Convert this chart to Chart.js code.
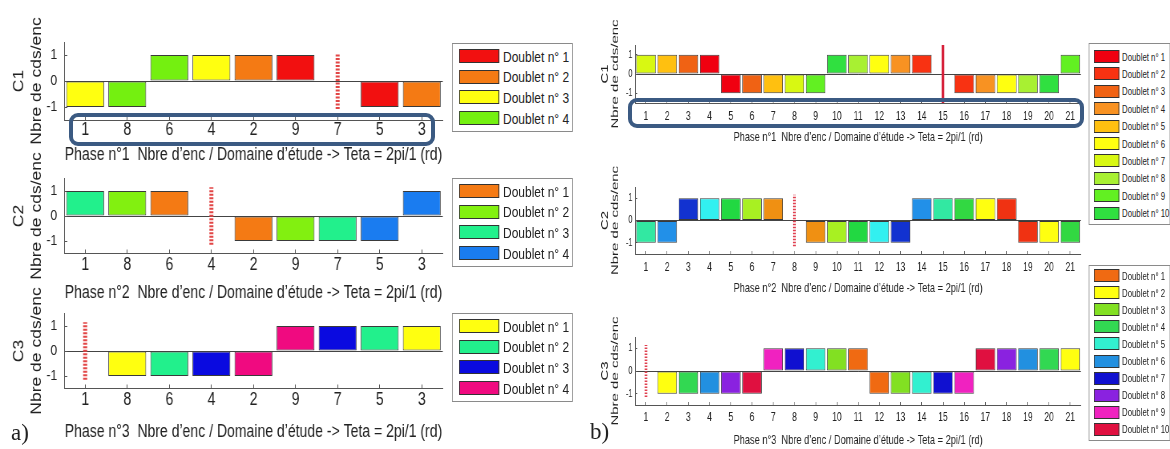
<!DOCTYPE html>
<html>
<head>
<meta charset="utf-8">
<script src="https://cdn.jsdelivr.net/npm/chart.js@4.4.0/dist/chart.umd.min.js"></script>
<style>
  html, body { margin: 0; padding: 0; background: #fff; }
  #page { position: relative; width: 1170px; height: 449px; overflow: hidden; background: #fff;
          font-family: "Liberation Sans", Arial, sans-serif; color: #222; }
  .panel { position: absolute; left: 0; top: 0; height: 449px; transform-origin: 0 0; }
  .box { position: absolute; }
  .legend { position: absolute; background: #fff; border: 1px solid #8a8a8a; box-sizing: border-box; }
  .row { position: absolute; display: flex; align-items: center; white-space: nowrap; }
  .sw { box-sizing: border-box; border: 1px solid #333; flex: none; }
  .hl { position: absolute; border: 4px solid #3b5a82; border-radius: 9px; box-sizing: border-box; }
  .lab { position: absolute; font-family: "Liberation Serif", "Times New Roman", serif; font-size: 23px; line-height: 23px; }
</style>
</head>
<body>
<div id="page">
  <div class="panel" id="panelA"></div>
  <div class="panel" id="panelB"></div>
  <div class="hl" style="left:69px;top:113px;width:366px;height:33px;"></div>
  <div class="hl" style="left:628px;top:98px;width:456px;height:30px;"></div>
  <div class="lab" style="left:11px;top:421px;">a)</div>
  <div class="lab" style="left:590px;top:420px;">b)</div>
</div>
<script>
// ---- data ----
var catsA = ["1", "8", "6", "4", "2", "9", "7", "5", "3"];
var catsB = ["1", "2", "3", "4", "5", "6", "7", "8", "9", "10", "11", "12", "13", "14", "15", "16", "17", "18", "19", "20", "21"];
var yTicks = [-1, 0, 1];
var yName = "Nbre de cds/enc";

// panel a
var valuesA1 = [-1, -1, 1, 1, 1, 1, null, -1, -1];
var doubletsA1 = [3, 4, 4, 3, 2, 1, null, 1, 2];
var valuesA2 = [1, 1, 1, null, -1, -1, -1, -1, 1];
var doubletsA2 = [3, 2, 1, null, 1, 2, 3, 4, 4];
var valuesA3 = [null, -1, -1, -1, -1, 1, 1, 1, 1];
var doubletsA3 = [null, 1, 2, 3, 4, 4, 3, 2, 1];
var stemsA = ["7", "4", "1"];
var coloursA1 = ["#f21010", "#f47a14", "#ffff10", "#74f010"];
var coloursA2 = ["#f47a14", "#82f010", "#22f08c", "#1a7cf0"];
var coloursA3 = ["#ffff10", "#22f08c", "#0a0ae0", "#f00a80"];

// panel b
var valuesB1 = [1, 1, 1, 1, -1, -1, -1, -1, -1, 1, 1, 1, 1, 1, null, -1, -1, -1, -1, -1, 1];
var doubletsB1 = [7, 5, 3, 1, 1, 3, 5, 7, 9, 10, 8, 6, 4, 2, null, 2, 4, 6, 8, 10, 9];
var valuesB2 = [-1, -1, 1, 1, 1, 1, 1, null, -1, -1, -1, -1, -1, 1, 1, 1, 1, 1, -1, -1, -1];
var doubletsB2 = [7, 6, 5, 4, 3, 2, 1, null, 1, 2, 3, 4, 5, 6, 7, 8, 9, 10, 10, 9, 8];
var valuesB3 = [null, -1, -1, -1, -1, -1, 1, 1, 1, 1, 1, -1, -1, -1, -1, -1, 1, 1, 1, 1, 1];
var doubletsB3 = [null, 2, 4, 6, 8, 10, 9, 7, 5, 3, 1, 1, 3, 5, 7, 9, 10, 8, 6, 4, 2];
var stemsB = ["15", "8", "1"];
var coloursB1 = ["#f00010", "#f83212", "#f06214", "#f89222", "#ffc010", "#ffff10", "#d8f812", "#a8f032", "#62f022", "#30e040"];
var coloursB2 = ["#f09012", "#a8f022", "#22d842", "#32f0f0", "#1232d0", "#2290e8", "#32e8a2", "#32d842", "#ffff10", "#f03212"];
var coloursB3 = ["#f06a12", "#ffff10", "#82e022", "#32d852", "#32f0d0", "#2290e0", "#1010d0", "#8a22e0", "#f022c0", "#e01040"];

var titles = [
  "Phase n°1  Nbre d’enc / Domaine d’étude -> Teta = 2pi/1 (rd)",
  "Phase n°2  Nbre d’enc / Domaine d’étude -> Teta = 2pi/1 (rd)",
  "Phase n°3  Nbre d’enc / Domaine d’étude -> Teta = 2pi/1 (rd)",
];

Chart.defaults.font.family = '"Liberation Sans", Arial, sans-serif';
Chart.defaults.color = "#222";

var sA = 0.8, sB = 0.68;
var panelA = document.getElementById("panelA");
var panelB = document.getElementById("panelB");
panelA.style.width = 1170 / sA + "px";
panelA.style.transform = "scaleX(" + sA + ")";
panelB.style.width = 1170 / sB + "px";
panelB.style.transform = "scaleX(" + sB + ")";

function addChart(panel, g, d) {
  var s = g.s;
  var holder = document.createElement("div");
  holder.className = "box";
  holder.style.left = g.x0 / s + "px";
  holder.style.top = g.y0 + "px";
  holder.style.width = (g.x1 - g.x0) / s + "px";
  holder.style.height = g.y1 - g.y0 + "px";
  var cv = document.createElement("canvas");
  holder.appendChild(cv);
  panel.appendChild(holder);

  new Chart(cv, {
    type: "bar",
    data: {
      labels: d.cats,
      datasets: [
        {
          data: d.values,
          backgroundColor: d.doublets.map(function (n) { return n ? d.colours[n - 1] : "transparent"; }),
          borderColor: "#3a3a3a",
          borderWidth: 1,
          borderSkipped: false,
          barPercentage: g.bar,
          categoryPercentage: 1,
        },
        {
          type: "line",
          data: d.stemRange.map(function (v) { return { x: d.stem, y: v }; }),
          borderColor: d.stemColour,
          borderWidth: g.stemWidth,
          borderDash: d.stemDash,
          pointRadius: 0,
        },
      ],
    },
    options: {
      responsive: true,
      maintainAspectRatio: false,
      animation: false,
      layout: { padding: { top: g.pt - g.y0, right: (g.x1 - g.pr) / s, left: 0, bottom: 0 } },
      plugins: { legend: { display: false }, tooltip: { enabled: false } },
      scales: {
        x: {
          offset: true,
          grid: { display: true, drawOnChartArea: false, drawTicks: true, tickLength: -g.tl, offset: false, color: "#555" },
          border: { display: true, color: "#555" },
          ticks: { font: { size: g.xf }, padding: g.tickY - g.pb + g.tl - g.xf * 0.6, maxRotation: 0, autoSkip: false },
          title: { display: true, text: d.xTitle, font: { size: g.tf }, padding: 0 },
          afterFit: function (sc) { sc.height = g.y1 - g.pb; },
        },
        y: {
          min: -1.5,
          max: 1.5,
          afterBuildTicks: function (sc) { sc.ticks = yTicks.map(function (v) { return { value: v }; }); },
          grid: {
            color: function (c) { return c.tick && c.tick.value === 0 ? "#444" : "rgba(0,0,0,0)"; },
            tickColor: "#555",
            tickLength: -g.tl,
            drawTicks: true,
          },
          border: { display: true, color: "#555" },
          ticks: { font: { size: g.yf }, padding: g.tl + g.ygap / s },
          title: { display: true, text: [d.cName, yName], font: { size: g.yt, lineHeight: g.ylh }, padding: { top: g.ytp, bottom: 0 } },
          afterFit: function (sc) { sc.width = (g.pl - g.x0) / s; },
        },
      },
    },
  });
}

function addLegend(panel, g, colours) {
  var s = g.s;
  var box = document.createElement("div");
  box.className = "legend";
  box.style.left = g.x0 / s + "px";
  box.style.top = g.y0 + "px";
  box.style.width = (g.x1 - g.x0) / s + "px";
  box.style.height = g.y1 - g.y0 + "px";
  colours.forEach(function (c, i) {
    var row = document.createElement("div");
    row.className = "row";
    row.style.left = (g.swX - g.x0) / s - 1 + "px";
    row.style.top = g.swTop + i * g.step - g.y0 - 1 + "px";
    row.style.height = g.swH + "px";
    var sw = document.createElement("div");
    sw.className = "sw";
    sw.style.width = g.swW / s + "px";
    sw.style.height = g.swH + "px";
    sw.style.background = c;
    var tx = document.createElement("span");
    tx.style.fontSize = g.font + "px";
    tx.style.marginLeft = (g.textX - g.swX - g.swW) / s + "px";
    tx.textContent = "Doublet n° " + (i + 1);
    row.appendChild(sw);
    row.appendChild(tx);
    box.appendChild(row);
  });
  panel.appendChild(box);
}

// ---- panel a ----
var geoA = { s: sA, x0: 0, x1: 446, pl: 64, pr: 442, bar: 0.9, tl: 4, xf: 17.5, yf: 15, tf: 17.5, yt: 17.5, ylh: 1.29, ytp: 12.5, ygap: 7, stemWidth: 5 };
function gA(extra) { return Object.assign({}, geoA, extra); }

addChart(panelA, gA({ y0: 0, y1: 166, pt: 42, pb: 120, tickY: 130 }),
  { cats: catsA, values: valuesA1, doublets: doubletsA1, colours: coloursA1, stem: stemsA[0], stemRange: [-1.08, 1.08],
    stemColour: "#e24646", stemDash: [2, 1.5], cName: "C1", xTitle: titles[0] });
addChart(panelA, gA({ y0: 140, y1: 304, pt: 178.5, pb: 253.5, tickY: 265 }),
  { cats: catsA, values: valuesA2, doublets: doubletsA2, colours: coloursA2, stem: stemsA[1], stemRange: [-1.15, 1.15],
    stemColour: "#e24646", stemDash: [2, 1.5], cName: "C2", xTitle: titles[1] });
addChart(panelA, gA({ y0: 270, y1: 443, pt: 313.5, pb: 388.5, tickY: 400 }),
  { cats: catsA, values: valuesA3, doublets: doubletsA3, colours: coloursA3, stem: stemsA[2], stemRange: [-1.15, 1.15],
    stemColour: "#e24646", stemDash: [2, 1.5], cName: "C3", xTitle: titles[2] });

var legA = { s: sA, x0: 452, x1: 573, step: 20.7, swX: 459, swW: 40, swH: 14, textX: 503, font: 15 };
addLegend(panelA, Object.assign({}, legA, { y0: 43, y1: 132, swTop: 49 }), coloursA1);
addLegend(panelA, Object.assign({}, legA, { y0: 178, y1: 267, swTop: 184 }), coloursA2);
addLegend(panelA, Object.assign({}, legA, { y0: 313, y1: 402, swTop: 319 }), coloursA3);

// ---- panel b ----
var geoB = { s: sB, x0: 590, x1: 1085, pl: 635, pr: 1080, bar: 0.92, tl: 3, xf: 12.5, yf: 10.5, tf: 13.6, yt: 15, ylh: 0.98, ytp: 14.7, ygap: 3, stemWidth: 4 };
function gB(extra) { return Object.assign({}, geoB, extra); }

addChart(panelB, gB({ y0: 0, y1: 145, pt: 45, pb: 103, tickY: 117 }),
  { cats: catsB, values: valuesB1, doublets: doubletsB1, colours: coloursB1, stem: stemsB[0], stemRange: [-1.5, 1.5],
    stemColour: "#d6203a", stemDash: [], cName: "C1", xTitle: titles[0] });
addChart(panelB, gB({ y0: 145, y1: 296, pt: 187, pb: 254, tickY: 268 }),
  { cats: catsB, values: valuesB2, doublets: doubletsB2, colours: coloursB2, stem: stemsB[1], stemRange: [-1.15, 1.15],
    stemColour: "#e04050", stemDash: [1.5, 1.5], cName: "C2", xTitle: titles[1] });
addChart(panelB, gB({ y0: 290, y1: 448, pt: 337, pb: 405, tickY: 418 }),
  { cats: catsB, values: valuesB3, doublets: doubletsB3, colours: coloursB3, stem: stemsB[2], stemRange: [-1.15, 1.15],
    stemColour: "#e04050", stemDash: [1.5, 1.5], cName: "C3", xTitle: titles[2] });

var legB = { s: sB, x0: 1089, x1: 1170, swX: 1094, swW: 25, swH: 13, textX: 1122, font: 11.5 };
addLegend(panelB, Object.assign({}, legB, { y0: 43, y1: 225, swTop: 50, step: 17.4 }), coloursB1);
addLegend(panelB, Object.assign({}, legB, { y0: 265, y1: 441, swTop: 269, step: 17.1 }), coloursB3);
</script>
</body>
</html>
